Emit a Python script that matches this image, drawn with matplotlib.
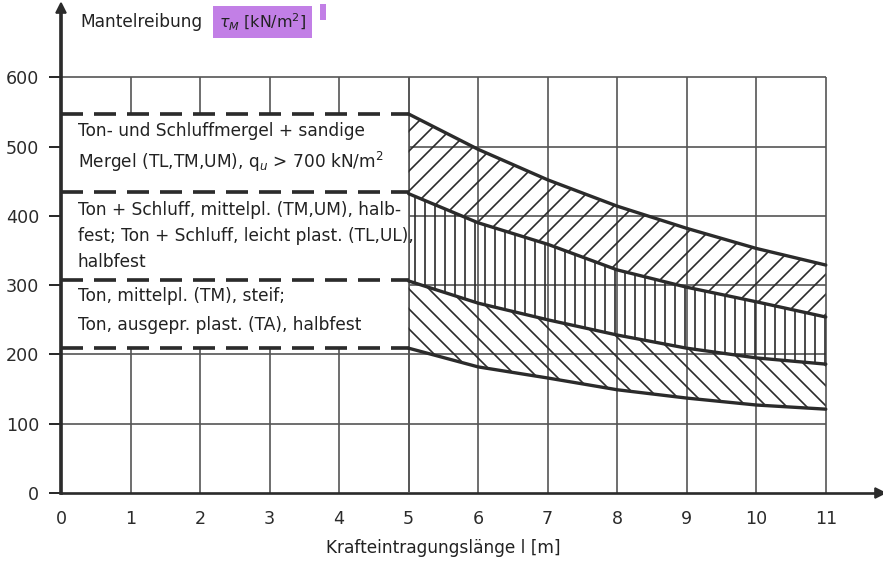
import numpy as np
import matplotlib
matplotlib.use("Agg")
import matplotlib.pyplot as plt
from matplotlib.patches import Rectangle

# Krafteintragungslaenge l [m] along the bands
L = [5, 6, 7, 8, 9, 10, 11]

# band boundaries (Mantelreibung, kN/m^2)
upper_top = [547, 496, 452, 414, 382, 353, 329]
mid_top = [432, 390, 359, 322, 297, 276, 254]
low_top = [306, 274, 250, 228, 209, 195, 186]
low_bot = [209, 182, 166, 149, 137, 127, 121]

# dashed levels on the left part (0..5 m)
dash_levels = [547, 434, 307, 210]

x_ticks = list(range(0, 12))
y_ticks = [0, 100, 200, 300, 400, 500, 600]

labels = [
    "Ton- und Schluffmergel + sandige\nMergel (TL,TM,UM), q$_u$ > 700 kN/m$^2$",
    "Ton + Schluff, mittelpl. (TM,UM), halb-\nfest; Ton + Schluff, leicht plast. (TL,UL),\nhalbfest",
    "Ton, mittelpl. (TM), steif;\nTon, ausgepr. plast. (TA), halbfest",
]
label_tops = [535, 421, 297]
label_spacing = [1.55, 1.55, 1.75]

INK = "#2b2b2b"
DPI = 120

plt.rcParams["hatch.linewidth"] = 1.0
plt.rcParams["hatch.color"] = INK

fig = plt.figure(figsize=(883 / DPI, 563 / DPI), dpi=DPI)
ax = fig.add_axes([61 / 883, 70 / 563, 819 / 883, 485 / 563])
ax.set_xlim(0, 11.78)
ax.set_ylim(0, 700)

# grid (only up to 11 m / 600 kN/m^2)
ax.vlines(x_ticks[1:], 0, 600, color="#555555", lw=1.0, zorder=1)
ax.hlines(y_ticks[1:], 0, 11, color="#555555", lw=1.0, zorder=1)

# white field behind the soil descriptions
ax.add_patch(Rectangle((0, dash_levels[-1]), 5, dash_levels[0] - dash_levels[-1],
                       facecolor="white", edgecolor="none", zorder=2))
ax.vlines(5, 0, 600, color="#555555", lw=1.0, zorder=3)

# hatched bands
ax.fill_between(L, mid_top, upper_top, facecolor="none", edgecolor=INK,
                hatch="//", lw=0, zorder=3)
ax.fill_between(L, low_top, mid_top, facecolor="none", edgecolor=INK,
                hatch="||", lw=0, zorder=3)
ax.fill_between(L, low_bot, low_top, facecolor="none", edgecolor=INK,
                hatch="\\\\", lw=0, zorder=3)
for curve in [upper_top, mid_top, low_top, low_bot]:
    ax.plot(L, curve, color=INK, lw=2.0, zorder=4, solid_capstyle="round")

for lev in dash_levels:
    ax.hlines(lev, 0, 5, color=INK, lw=2.2, linestyles=(0, (6, 3)), zorder=4)

for txt, top, sp in zip(labels, label_tops, label_spacing):
    ax.text(0.24, top, txt, ha="left", va="top", fontsize=10.2,
            color="#222222", linespacing=sp, zorder=5)

# axes with arrows
for s in ["top", "right"]:
    ax.spines[s].set_visible(False)
ax.spines["left"].set_linewidth(2.2)
ax.spines["bottom"].set_linewidth(1.6)
ax.spines["left"].set_color(INK)
ax.spines["bottom"].set_color(INK)
ax.plot(1, 0, ">", transform=ax.transAxes, color=INK, ms=6, clip_on=False)
ax.plot(0, 1, "^", transform=ax.transAxes, color=INK, ms=6, clip_on=False)

ax.set_xticks(x_ticks)
ax.set_yticks(y_ticks)
ax.tick_params(axis="y", length=7, width=1.2, colors=INK, labelsize=10.5, pad=6)
ax.tick_params(axis="x", length=0, colors=INK, labelsize=10.5, pad=10)

# axis captions
fig.text(443 / 883, 1 - 548 / 563, "Krafteintragungslänge l [m]", fontsize=10.2,
         color="#222222", ha="center", va="center")
fig.text(80 / 883, 1 - 22 / 563, "Mantelreibung", fontsize=10.2, color="#222222",
         ha="left", va="center")
fig.text(219 / 883, 1 - 22 / 563, r"$\tau_M$ [kN/m$^2$]", fontsize=9.5, color="#222222",
         ha="left", va="center",
         bbox=dict(boxstyle="square,pad=0.35", facecolor="#c27fe6", edgecolor="none"))
fig.patches.append(Rectangle((320 / 883, 1 - 20 / 563), 6 / 883, 16 / 563,
                             transform=fig.transFigure, facecolor="#c27fe6",
                             edgecolor="none"))

fig.savefig("out.png", dpi=DPI)
